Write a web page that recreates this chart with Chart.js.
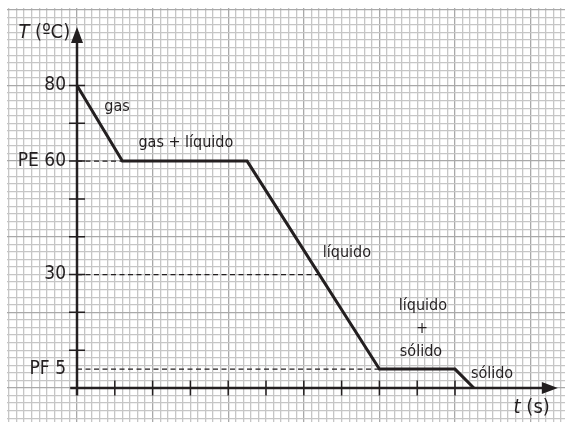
<!DOCTYPE html>
<html>
<head>
<meta charset="utf-8">
<script src="https://cdn.jsdelivr.net/npm/chart.js@4.4.1/dist/chart.umd.min.js"></script>
<style>
  html, body { margin: 0; padding: 0; background: #fff; }
  #wrap { width: 565px; height: 422px; position: relative; }
</style>
</head>
<body>
<div id="wrap"><canvas id="chart"></canvas></div>
<script>
// cooling curve of the substance
const times = [0, 1.2, 4.5, 8, 10, 10.5];
const temps = [80, 60, 60, 5, 5, 0];

// dashed guides from the T axis to the curve
const guideTemps = [60, 30, 5];
const guideEnds = [1.2, 6.4, 8];

// axis marks
const yTickValues = [10, 20, 30, 40, 50, 60, 70, 80];
const xTickValues = [1, 2, 3, 4, 5, 6, 7, 8, 9, 10];
const yLabelValues = [80, 60, 30, 5];
const yLabelTexts = ['80', 'PE 60', '30', 'PF 5'];

// phase names along the curve
const phaseTexts = ['gas', 'gas + líquido', 'líquido', 'líquido', '+', 'sólido', 'sólido'];

const FONT = '"Liberation Sans Narrow", "DejaVu Sans Condensed", sans-serif';
const INK = '#231f20';

const phaseAt = [[1.06, 74.3], [2.88, 64.8], [7.14, 35.7], [9.15, 21.7], [9.13, 15.6], [9.1, 9.5], [10.98, 3.7]];

const paperPlugin = {
  id: 'paper',
  beforeDatasetsDraw(chart) {
    const { ctx, scales: { x, y } } = chart;
    const x0 = x.getPixelForValue(0), y0 = y.getPixelForValue(0);
    const xTip = x.getPixelForValue(12.72), yTip = y.getPixelForValue(95.5);
    ctx.save();
    ctx.strokeStyle = INK;
    ctx.fillStyle = INK;
    ctx.lineWidth = 2.5;
    ctx.beginPath();
    ctx.moveTo(x.getPixelForValue(-0.18), y0);
    ctx.lineTo(xTip - 10, y0);
    ctx.moveTo(x0, y.getPixelForValue(-2));
    ctx.lineTo(x0, yTip + 10);
    ctx.stroke();
    // tick marks
    ctx.lineWidth = 1.5;
    ctx.beginPath();
    yTickValues.forEach(v => {
      const py = y.getPixelForValue(v);
      ctx.moveTo(x0 - 8, py);
      ctx.lineTo(x0 + 8, py);
    });
    xTickValues.forEach(v => {
      const px = x.getPixelForValue(v);
      ctx.moveTo(px, y0 - 7.5);
      ctx.lineTo(px, y0 + 7.5);
    });
    ctx.stroke();
    // arrow heads
    ctx.beginPath();
    ctx.moveTo(x0, yTip);
    ctx.lineTo(x0 - 6, yTip + 16);
    ctx.lineTo(x0 + 6, yTip + 16);
    ctx.closePath();
    ctx.moveTo(xTip, y0);
    ctx.lineTo(xTip - 16, y0 - 6);
    ctx.lineTo(xTip - 16, y0 + 6);
    ctx.closePath();
    ctx.fill();
    ctx.restore();
  },
  afterDatasetsDraw(chart) {
    const { ctx, scales: { x, y } } = chart;
    const x0 = x.getPixelForValue(0);
    ctx.save();
    ctx.fillStyle = INK;
    ctx.textBaseline = 'middle';
    ctx.textAlign = 'right';
    ctx.font = '19px ' + FONT;
    yLabelValues.forEach((v, i) => {
      ctx.fillText(yLabelTexts[i], x0 - 11, y.getPixelForValue(v));
    });
    ctx.textAlign = 'center';
    ctx.font = '16px ' + FONT;
    phaseTexts.forEach((t, i) => {
      ctx.fillText(t, x.getPixelForValue(phaseAt[i][0]), y.getPixelForValue(phaseAt[i][1]));
    });
    // axis titles
    ctx.textAlign = 'left';
    let px = x.getPixelForValue(-1.55), py = y.getPixelForValue(93.9);
    ctx.font = 'italic 20px ' + FONT;
    ctx.fillText('T', px, py);
    px += ctx.measureText('T ').width;
    ctx.font = '20px ' + FONT;
    ctx.fillText('(ºC)', px, py);
    px = x.getPixelForValue(11.55);
    py = y.getPixelForValue(-5.3);
    ctx.font = 'italic 20px ' + FONT;
    ctx.fillText('t', px, py);
    px += ctx.measureText('t ').width;
    ctx.font = '20px ' + FONT;
    ctx.fillText('(s)', px, py);
    ctx.restore();
  }
};

const datasets = [{
  data: times.map((t, i) => ({ x: t, y: temps[i] })),
  borderColor: INK,
  borderWidth: 3,
  pointRadius: 0,
  order: 0
}];
guideTemps.forEach((g, i) => {
  datasets.push({
    data: [{ x: 0, y: g }, { x: guideEnds[i], y: g }],
    borderColor: INK,
    borderWidth: 1.3,
    borderDash: [5, 3.5],
    pointRadius: 0,
    order: 1
  });
});

const gridColor = (major) => (ctx) => {
  const v = ctx.tick ? ctx.tick.value : 0;
  return major(v) ? '#a9a9a9' : '#c6c6c6';
};

new Chart(document.getElementById('chart'), {
  type: 'line',
  data: { datasets },
  options: {
    responsive: true,
    maintainAspectRatio: false,
    animation: false,
    layout: { padding: { left: 7, top: 8, right: 0, bottom: 0 } },
    plugins: { legend: { display: false }, tooltip: { enabled: false } },
    scales: {
      x: {
        type: 'linear',
        min: -1.852,
        max: 12.91,
        ticks: { display: false, stepSize: 0.2, includeBounds: false },
        border: { display: false },
        grid: {
          drawTicks: false,
          lineWidth: 1.3,
          color: gridColor(v => Math.abs(v / 2 - Math.round(v / 2)) < 1e-6)
        }
      },
      y: {
        type: 'linear',
        min: -9.0,
        max: 100.5,
        ticks: { display: false, stepSize: 2, includeBounds: false },
        border: { display: false },
        grid: {
          drawTicks: false,
          lineWidth: 1.3,
          color: gridColor(v => Math.abs(v % 20) < 1e-6)
        }
      }
    }
  },
  plugins: [paperPlugin]
});
</script>
</body>
</html>
